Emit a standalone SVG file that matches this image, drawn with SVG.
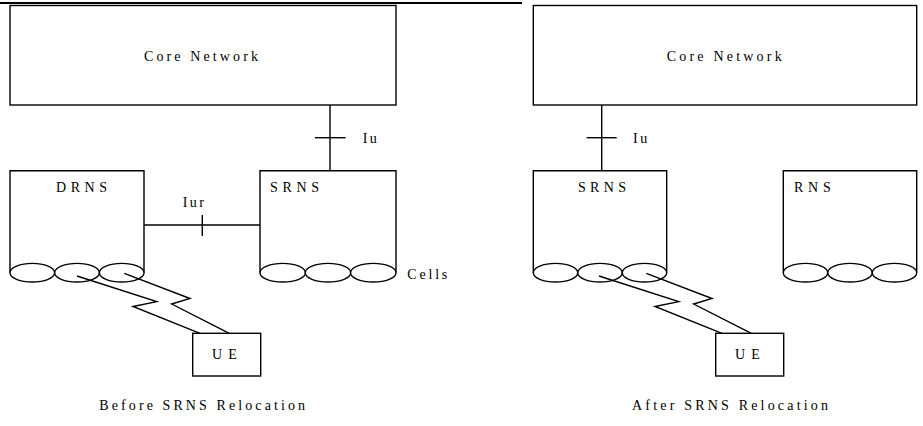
<svg xmlns="http://www.w3.org/2000/svg" width="923" height="426" viewBox="0 0 923 426">
<style>
.s{fill:none;stroke:#000;stroke-width:1.4}
.c{fill:#fff;stroke:#000;stroke-width:1.4}
text{font-family:'Liberation Serif','Times New Roman',serif;font-size:14px;fill:#000}
</style>
<rect width="923" height="426" fill="#fff"/>
<line x1="0" y1="3" x2="522" y2="3" stroke="#000" stroke-width="2"/>
<g id="core-left"><rect class="s" x="10" y="5.5" width="386" height="99.5"/><text x="144" y="60.5" textLength="114" lengthAdjust="spacing">Core Network</text></g>
<g id="drns"><path class="s" d="M10,272.7 V170.7 H144 V272.7"/>
<ellipse class="c" cx="32.3" cy="272.7" rx="22.3" ry="9.3"/><ellipse class="c" cx="77" cy="272.7" rx="22.3" ry="9.3"/><ellipse class="c" cx="121.7" cy="272.7" rx="22.3" ry="9.3"/>
<text x="56" y="192.3" textLength="51" lengthAdjust="spacing">DRNS</text></g>
<g id="srns-left"><path class="s" d="M260,272.7 V170.7 H396 V272.7"/>
<ellipse class="c" cx="282.7" cy="272.7" rx="22.7" ry="9.3"/><ellipse class="c" cx="328" cy="272.7" rx="22.7" ry="9.3"/><ellipse class="c" cx="373.3" cy="272.7" rx="22.7" ry="9.3"/>
<text x="270" y="192.3" textLength="49" lengthAdjust="spacing">SRNS</text>
<text x="407.3" y="279" textLength="40" lengthAdjust="spacing">Cells</text></g>
<g id="ue-left"><rect class="s" x="192.7" y="333.3" width="68" height="42.7"/><text x="212" y="359.3" textLength="24.7" lengthAdjust="spacing">UE</text></g>
<g id="core-right"><rect class="s" x="533.3" y="5.5" width="383.4" height="99.5"/><text x="666.7" y="60.5" textLength="115" lengthAdjust="spacing">Core Network</text></g>
<g id="srns-right"><path class="s" d="M533.3,272.7 V170.7 H666.7 V272.7"/>
<ellipse class="c" cx="555.5" cy="272.7" rx="22.2" ry="9.3"/><ellipse class="c" cx="600" cy="272.7" rx="22.2" ry="9.3"/><ellipse class="c" cx="644.5" cy="272.7" rx="22.2" ry="9.3"/>
<text x="578" y="192.3" textLength="48" lengthAdjust="spacing">SRNS</text></g>
<g id="rns"><path class="s" d="M783.3,272.7 V170.7 H916.7 V272.7"/>
<ellipse class="c" cx="805.5" cy="272.7" rx="22.2" ry="9.3"/><ellipse class="c" cx="850" cy="272.7" rx="22.2" ry="9.3"/><ellipse class="c" cx="894.5" cy="272.7" rx="22.2" ry="9.3"/>
<text x="794" y="192.3" textLength="36.7" lengthAdjust="spacing">RNS</text></g>
<g id="ue-right"><rect class="s" x="715.7" y="333.3" width="68" height="42.7"/><text x="735" y="359.3" textLength="24.7" lengthAdjust="spacing">UE</text></g>
<g id="connectors">
<line class="s" x1="330" y1="105" x2="330" y2="170.7"/><line class="s" x1="315" y1="137.7" x2="345.7" y2="137.7"/>
<text x="362.7" y="143.3" textLength="14" lengthAdjust="spacing">Iu</text>
<line class="s" x1="144" y1="225" x2="260" y2="225"/><line class="s" x1="202.3" y1="215" x2="202.3" y2="236"/>
<text x="182.7" y="207.3" textLength="21.3" lengthAdjust="spacing">Iur</text>
<polyline class="s" points="77,276 156.7,301.7 133,306.5 200,333.3"/>
<polyline class="s" points="124.3,273.3 190,298.5 171.7,304 229.3,333.3"/>
<line class="s" x1="601.7" y1="105" x2="601.7" y2="170.7"/><line class="s" x1="586.7" y1="137.7" x2="616.7" y2="137.7"/>
<text x="633" y="143.3" textLength="14.3" lengthAdjust="spacing">Iu</text>
<polyline class="s" points="599,276 678.7,301.7 655,306.5 722,333.3"/>
<polyline class="s" points="646.3,273.3 712,298.5 693.7,304 751.3,333.3"/>
</g>
<text x="99.3" y="410" textLength="205.7" lengthAdjust="spacing">Before SRNS Relocation</text>
<text x="632" y="410" textLength="196" lengthAdjust="spacing">After SRNS Relocation</text>
</svg>
